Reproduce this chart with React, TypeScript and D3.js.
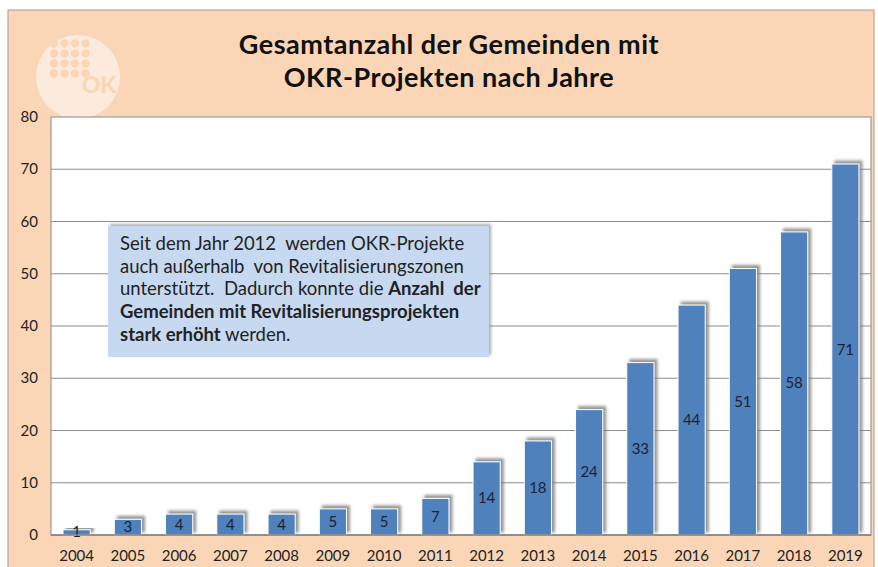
import React, { useEffect, useRef } from 'react';
import * as d3 from 'd3';

const years = ['2004', '2005', '2006', '2007', '2008', '2009', '2010', '2011', '2012', '2013', '2014', '2015', '2016', '2017', '2018', '2019'];
const counts = [1, 3, 4, 4, 4, 5, 5, 7, 14, 18, 24, 33, 44, 51, 58, 71];
const yTicks = [0, 10, 20, 30, 40, 50, 60, 70, 80];
const titleLines = ['Gesamtanzahl der Gemeinden mit', 'OKR-Projekten nach Jahre'];

// note text, split into runs so parts can be bold
const noteLines = [
  [{ t: 'Seit dem Jahr 2012  werden OKR-Projekte', b: false }],
  [{ t: 'auch außerhalb  von Revitalisierungszonen', b: false }],
  [{ t: 'unterstützt.  Dadurch konnte die ', b: false }, { t: 'Anzahl  der', b: true }],
  [{ t: 'Gemeinden mit Revitalisierungsprojekten', b: true }],
  [{ t: 'stark erhöht', b: true }, { t: ' werden.', b: false }],
];

function App() {
  const svgRef = useRef(null);

  useEffect(() => {
    const width = 878;
    const height = 567;
    const svg = d3.select(svgRef.current);
    svg.selectAll('*').remove();
    svg.attr('width', width).attr('height', height);

    const font = "Lato, 'Open Sans', sans-serif";
    const defs = svg.append('defs');

    const shadow = defs.append('filter').attr('id', 'bar-shadow')
      .attr('x', '-30%').attr('y', '-30%').attr('width', '160%').attr('height', '160%');
    shadow.append('feDropShadow')
      .attr('dx', 3).attr('dy', -3).attr('stdDeviation', 1.6)
      .attr('flood-color', '#7a7a7a').attr('flood-opacity', 0.8);

    const boxShadow = defs.append('filter').attr('id', 'box-shadow')
      .attr('x', '-10%').attr('y', '-10%').attr('width', '120%').attr('height', '120%');
    boxShadow.append('feDropShadow')
      .attr('dx', 2).attr('dy', -2).attr('stdDeviation', 1.5)
      .attr('flood-color', '#888').attr('flood-opacity', 0.7);

    // background panel
    svg.append('rect').attr('width', width).attr('height', height).attr('fill', '#ffffff');
    svg.append('rect')
      .attr('x', 8).attr('y', 10).attr('width', 866).attr('height', 560)
      .attr('fill', '#fad6b6').attr('stroke', '#a89a8c').attr('stroke-width', 1);

    // logo
    const logo = svg.append('g');
    logo.append('circle').attr('cx', 78).attr('cy', 77).attr('r', 42).attr('fill', '#fcebdd');
    const dotX = [54, 64.5, 75, 85.5];
    const dotY = [43.5, 53.5, 63.5, 73.5];
    dotY.forEach(yy => dotX.forEach(xx => {
      logo.append('circle').attr('cx', xx).attr('cy', yy).attr('r', 4.2).attr('fill', '#f9d6b6');
    }));
    logo.append('text')
      .attr('x', 99).attr('y', 93).attr('text-anchor', 'middle')
      .attr('font-family', font).attr('font-weight', 900).attr('font-size', 23)
      .attr('fill', '#f9d6b6').text('OK');

    // title
    svg.append('g').selectAll('text')
      .data(titleLines)
      .enter()
      .append('text')
      .attr('x', 449)
      .attr('y', (d, i) => 54 + i * 33)
      .attr('text-anchor', 'middle')
      .attr('font-family', font)
      .attr('font-weight', 700)
      .attr('font-size', 27)
      .attr('letter-spacing', 0.5)
      .attr('fill', '#111')
      .text(d => d);

    // plot area
    const left = 51, right = 871, top = 117, bottom = 535;
    const x = d3.scaleBand().domain(years).range([left, right]).paddingInner(0.47).paddingOuter(0.235);
    const y = d3.scaleLinear().domain([0, 80]).range([bottom, top]);

    svg.append('rect')
      .attr('x', left).attr('y', top).attr('width', right - left).attr('height', bottom - top)
      .attr('fill', '#ffffff').attr('stroke', '#9a9a9a').attr('stroke-width', 1.2);

    svg.append('g').selectAll('line')
      .data(yTicks.filter(t => t > 0 && t < 80))
      .enter()
      .append('line')
      .attr('x1', left).attr('x2', right)
      .attr('y1', d => y(d)).attr('y2', d => y(d))
      .attr('stroke', '#8c8c8c').attr('stroke-width', 1.2);

    // y labels
    svg.append('g').selectAll('text')
      .data(yTicks)
      .enter()
      .append('text')
      .attr('x', 38).attr('y', d => y(d) + 5)
      .attr('text-anchor', 'end')
      .attr('font-family', font).attr('font-size', 15).attr('fill', '#222')
      .text(d => d);

    // bars
    svg.append('g').selectAll('rect')
      .data(counts)
      .enter()
      .append('rect')
      .attr('x', (d, i) => x(years[i]))
      .attr('y', d => y(d))
      .attr('width', x.bandwidth())
      .attr('height', d => bottom - y(d))
      .attr('fill', '#4f81bd')
      .attr('stroke', '#ffffff').attr('stroke-width', 1)
      .attr('filter', 'url(#bar-shadow)');

    // bar labels
    svg.append('g').selectAll('text')
      .data(counts)
      .enter()
      .append('text')
      .attr('x', (d, i) => x(years[i]) + x.bandwidth() / 2)
      .attr('y', d => (y(d) + bottom) / 2 + 5)
      .attr('text-anchor', 'middle')
      .attr('font-family', font).attr('font-size', 15).attr('fill', '#1b2233')
      .text(d => d);

    // x axis line
    svg.append('line')
      .attr('x1', left).attr('x2', right).attr('y1', bottom).attr('y2', bottom)
      .attr('stroke', '#7f7f7f').attr('stroke-width', 1.5);

    // x labels
    svg.append('g').selectAll('text')
      .data(years)
      .enter()
      .append('text')
      .attr('x', d => x(d) + x.bandwidth() / 2)
      .attr('y', 561)
      .attr('text-anchor', 'middle')
      .attr('font-family', font).attr('font-size', 15).attr('fill', '#222')
      .text(d => d);

    // note box
    svg.append('rect')
      .attr('x', 108).attr('y', 226).attr('width', 381).attr('height', 131)
      .attr('fill', '#c6d9f1')
      .attr('filter', 'url(#box-shadow)');

    const note = svg.append('g');
    noteLines.forEach((runs, i) => {
      const t = note.append('text')
        .attr('x', 120).attr('y', 250 + i * 22.7)
        .attr('font-family', font).attr('font-size', 18.5).attr('fill', '#222')
        .attr('xml:space', 'preserve')
        .style('white-space', 'pre');
      runs.forEach(r => {
        t.append('tspan').attr('font-weight', r.b ? 700 : 400).text(r.t);
      });
    });
  }, []);

  return (
    <div style={{ position: 'absolute', left: 0, top: 0 }}>
      <svg ref={svgRef} style={{ display: 'block' }}></svg>
    </div>
  );
}

export default App;
